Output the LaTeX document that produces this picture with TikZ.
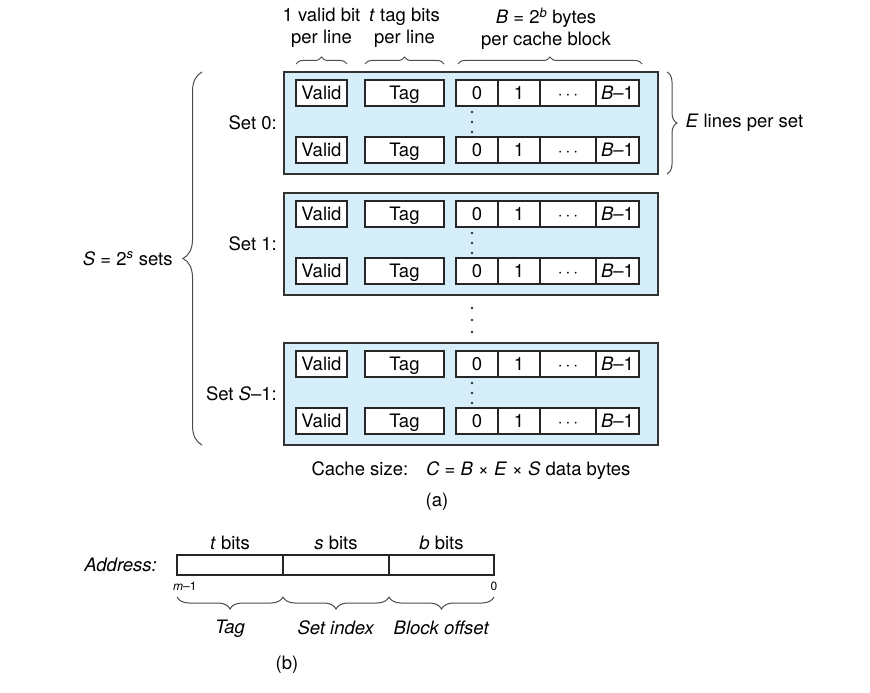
\documentclass[tikz,border=0pt]{standalone}
\usepackage{fontspec}
\setmainfont{TeX Gyre Heros}
\usetikzlibrary{positioning, decorations.pathreplacing}
\definecolor{cacheblue}{RGB}{214,238,249}

\tikzset{
  txt/.style={inner sep=0pt, font=\fontsize{18.5}{22}\selectfont},
  bitnum/.style={inner sep=0pt, font=\fontsize{12}{14}\selectfont},
  setbox/.style={draw=black!80, fill=cacheblue, line width=1.3pt, minimum width=374pt, minimum height=102pt, inner sep=0pt, outer sep=0pt},
  cell/.style={txt, draw=black!85, fill=white, line width=1.1pt, minimum height=26pt, text height=13.5pt, text depth=0pt, outer sep=0pt},
  field/.style={draw=black!85, line width=1.2pt, minimum width=106pt, minimum height=20pt, inner sep=0pt, outer sep=0pt},
  brc/.style={decorate, decoration={brace, amplitude=#1}, draw=black!70, line width=1pt},
  brc/.default=7pt,
}

\begin{document}
\begin{tikzpicture}[x=1pt, y=-1pt]
	\useasboundingbox (0,0) rectangle (870,693);
	
	% (a) the sets of the cache
	\foreach \t/\lab/\n in {72/{Set 0:}/0, 193/{Set 1:}/1, 343/{Set \textit{S}--1:}/2} {
		\node[setbox, anchor=north west] (set\n) at (284,\t) {};
		\node[txt, left=7pt of set\n.west] (lab\n) {\lab};
		\foreach \dy [count=\k] in {8,65} {
			\node[cell, minimum width=51pt, anchor=north west] (valid\n\k) at (296,{\t+\dy}) {Valid};
			\node[cell, minimum width=79pt, right=18pt of valid\n\k] (tag\n\k) {Tag};
			\node[cell, minimum width=42pt, right=12pt of tag\n\k] (byteA\n\k) {0};
			\node[cell, minimum width=42pt, right=0pt of byteA\n\k] (byteB\n\k) {1};
			\node[cell, minimum width=56pt, right=0pt of byteB\n\k] (byteC\n\k) {$\cdots$};
			\node[cell, minimum width=43pt, right=0pt of byteC\n\k] (byteD\n\k) {\textit{B}--1};
		}
		\foreach \dy in {40,50,60}
			\fill[black!80] (472,{\t+\dy}) circle (1.3pt);
	}
	\foreach \yy in {308,320,332}
		\fill[black!80] (472,\yy) circle (1.3pt);
	
	% braces round the sets
	\draw[brc] ([yshift=16pt]valid01.north west) -- ([yshift=16pt]valid01.north east)
		node[txt, midway, above=16pt, align=center] {1 valid bit\\per line};
	\draw[brc] ([yshift=16pt]tag01.north west) -- ([yshift=16pt]tag01.north east)
		node[txt, midway, above=16pt, align=center] {\textit{t} tag bits\\per line};
	\draw[brc] ([xshift=2pt,yshift=16pt]byteA01.north west) -- ([xshift=3pt,yshift=16pt]byteD01.north east)
		node[txt, midway, above=14pt, xshift=-4pt, align=center] {\textit{B} = 2\textsuperscript{\textit{b}} bytes\\per cache block};
	\draw[brc=19pt] ([xshift=-82pt]set2.south west) -- ([xshift=-82pt]set0.north west)
		node[txt, midway, left=29pt] {\textit{S} = 2\textsuperscript{\textit{s}} sets};
	\draw[brc=10pt] ([xshift=9pt]set0.north east) -- ([xshift=9pt]set0.south east)
		node[txt, midway, right=18pt] {\textit{E} lines per set};
	
	\node[txt, below=16pt of set2] (size) {Cache size:\hspace{0.6em} \textit{C} = \textit{B} × \textit{E} × \textit{S} data bytes};
	\node[txt] (capa) at (437,502) {(a)};
	
	% (b) the address
	\node[field, anchor=north west] (tagf) at (177,555) {};
	\node[field, right=0pt of tagf] (setf) {};
	\node[field, right=0pt of setf, minimum width=105pt] (offf) {};
	\node[txt, left=20pt of tagf] (addr) {\textit{Address:}};
	\node[txt, above=5pt of tagf] {\textit{t} bits};
	\node[txt, above=5pt of setf] {\textit{s} bits};
	\node[txt, above=5pt of offf] {\textit{b} bits};
	\node[bitnum, anchor=north west] (msb) at ([xshift=-4pt,yshift=-7pt]tagf.south west) {\textit{m}--1};
	\node[bitnum, anchor=north] (lsb) at ([yshift=-7pt]offf.south east) {0};
	
	\draw[brc=12pt] ([yshift=-22pt]tagf.south east) -- ([yshift=-22pt]tagf.south west)
		node[txt, midway, below=23pt] {\textit{Tag}};
	\draw[brc=12pt] ([yshift=-22pt]setf.south east) -- ([yshift=-22pt]setf.south west)
		node[txt, midway, below=23pt] {\textit{Set index}};
	\draw[brc=12pt] ([yshift=-22pt]offf.south east) -- ([yshift=-22pt]offf.south west)
		node[txt, midway, below=23pt] {\textit{Block offset}};
	
	\node[txt] (capb) at (287,665) {(b)};
\end{tikzpicture}
\end{document}
